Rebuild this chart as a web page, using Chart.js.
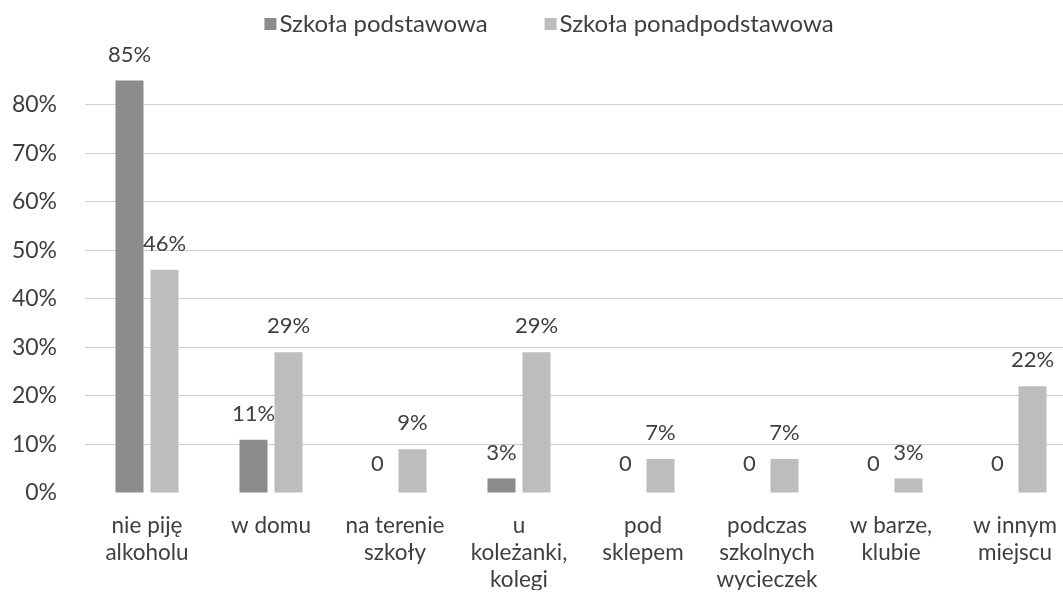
<!DOCTYPE html>
<html>
<head>
<meta charset="utf-8">
<script src="https://cdn.jsdelivr.net/npm/chart.js"></script>
<style>
  html, body { margin: 0; padding: 0; background: #fff; overflow: hidden; }
  #wrap { width: 1080px; height: 593px; position: relative; }
</style>
</head>
<body>
<div id="wrap"><canvas id="chart"></canvas></div>
<script>
const categories = [
    ["nie piję", "alkoholu"],
    ["w domu"],
    ["na terenie", "szkoły"],
    ["u", "koleżanki,", "kolegi"],
    ["pod", "sklepem"],
    ["podczas", "szkolnych", "wycieczek"],
    ["w barze,", "klubie"],
    ["w innym", "miejscu"]
];
const seriesNames = ["Szkoła podstawowa", "Szkoła ponadpodstawowa"];
const podstawowa = [85, 11, 0, 3, 0, 0, 0, 0];
const ponadpodstawowa = [46, 29, 9, 29, 7, 7, 3, 22];
const yTicks = [0, 10, 20, 30, 40, 50, 60, 70, 80];
const colors = ["#8c8c8c", "#bdbdbd"];

const textColor = "#3e3e3e";
const fontFamily = "Lato, 'Open Sans', sans-serif";

// value labels above the bars, placed from the bar elements
const valueLabels = {
    id: "valueLabels",
    afterDatasetsDraw(chart) {
        const ctx = chart.ctx;
        ctx.save();
        ctx.font = "22px " + fontFamily;
        ctx.fillStyle = textColor;
        ctx.textAlign = "center";
        ctx.textBaseline = "middle";
        chart.data.datasets.forEach((ds, di) => {
            const meta = chart.getDatasetMeta(di);
            meta.data.forEach((bar, i) => {
                const v = ds.data[i];
                const txt = v === 0 ? "0" : v + "%";
                const off = v === 0 ? 29 : 26;
                ctx.fillText(txt, bar.x, bar.y - off);
            });
        });
        ctx.restore();
    }
};

// legend drawn by hand so spacing matches
const topLegend = {
    id: "topLegend",
    afterDraw(chart) {
        const ctx = chart.ctx;
        ctx.save();
        ctx.font = "24px " + fontFamily;
        ctx.textBaseline = "middle";
        const box = 12, gapBox = 3, gapItem = 57;
        let widths = chart.data.datasets.map(ds => box + gapBox + ctx.measureText(ds.label).width);
        let total = widths.reduce((a, b) => a + b, 0) + gapItem * (widths.length - 1);
        let x = 549 - total / 2;
        const y = 24;
        chart.data.datasets.forEach((ds, i) => {
            ctx.fillStyle = ds.backgroundColor;
            ctx.fillRect(x, y - box / 2, box, box);
            ctx.fillStyle = textColor;
            ctx.textAlign = "left";
            ctx.fillText(ds.label, x + box + gapBox, y);
            x += widths[i] + gapItem;
        });
        ctx.restore();
    }
};

new Chart(document.getElementById("chart"), {
    type: "bar",
    data: {
        labels: categories,
        datasets: [
            { label: seriesNames[0], data: podstawowa, backgroundColor: colors[0] },
            { label: seriesNames[1], data: ponadpodstawowa, backgroundColor: colors[1] }
        ]
    },
    options: {
        responsive: true,
        maintainAspectRatio: false,
        animation: false,
        categoryPercentage: 0.565,
        barPercentage: 0.8,
        layout: { padding: { top: 66, right: 3, bottom: 3, left: 0 } },
        plugins: {
            legend: { display: false },
            tooltip: { enabled: false }
        },
        scales: {
            x: {
                grid: { display: false },
                border: { display: false },
                afterFit(axis) { axis.height = 97; },
                ticks: {
                    color: textColor,
                    padding: 11,
                    maxRotation: 0,
                    autoSkip: false,
                    font: { family: fontFamily, size: 22.5, lineHeight: 1.2 }
                }
            },
            y: {
                min: 0,
                max: 88,
                afterBuildTicks(axis) {
                    axis.ticks = yTicks.map(v => ({ value: v }));
                },
                afterFit(axis) { axis.width = 85; },
                border: { display: false },
                grid: {
                    drawTicks: false,
                    lineWidth: 1,
                    color: c => c.tick && c.tick.value === 0 ? "rgba(0,0,0,0)" : "#cfcfcf"
                },
                ticks: {
                    color: textColor,
                    padding: 28,
                    font: { family: fontFamily, size: 23 },
                    callback: v => v + "%"
                }
            }
        }
    },
    plugins: [valueLabels, topLegend]
});
</script>
</body>
</html>
